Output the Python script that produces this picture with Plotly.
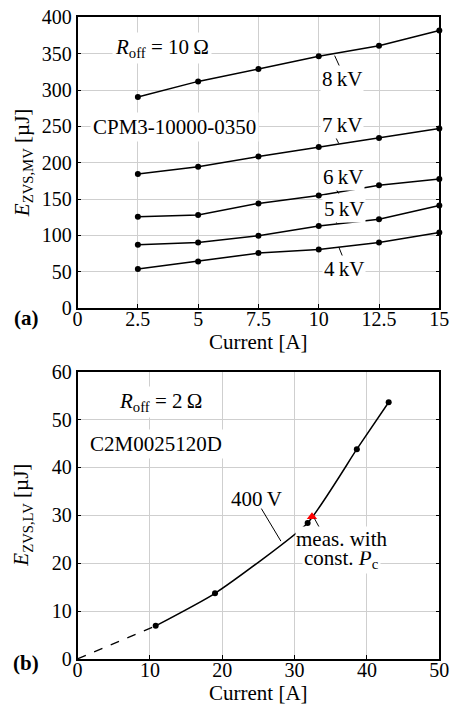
import plotly.graph_objects as go

# ---- data (a) ----
current_a = [2.5, 5, 7.5, 10, 12.5, 15]
e_4kv = [53.5, 64, 75.5, 80.5, 90, 104]
e_5kv = [87, 90, 99.5, 113, 122, 141]
e_6kv = [125.5, 128, 144, 155, 169, 177.5]
e_7kv = [184.5, 194.5, 208.5, 221.5, 234, 247]
e_8kv = [290.5, 312, 329, 346.5, 361, 382]
voltage_labels = ["4\u2009kV", "5\u2009kV", "6\u2009kV", "7\u2009kV", "8\u2009kV"]

# ---- data (b) ----
current_b = [10.8, 19.0, 31.8, 38.6, 43.0]
e_400v = [6.9, 13.7, 28.4, 43.8, 53.6]
extrap_x = [0, 10.8]
extrap_y = [0, 6.9]
const_pc_x = [32.4]
const_pc_y = [29.7]

ticks_a_x = [0, 2.5, 5, 7.5, 10, 12.5, 15]
ticks_a_y = [0, 50, 100, 150, 200, 250, 300, 350, 400]
ticks_b_x = [0, 10, 20, 30, 40, 50]
ticks_b_y = [0, 10, 20, 30, 40, 50, 60]

FONT = "Liberation Serif, Times New Roman, serif"
FS = 21
TFS = 20
W, H = 459, 720

def px(x):  # page x pixel -> paper fraction
    return x / W

def py(y):  # page y pixel -> paper fraction
    return 1 - y / H

fig = go.Figure()
line = dict(color="black", width=1.5)
mk = dict(color="black", size=6)
for ys in [e_4kv, e_5kv, e_6kv, e_7kv, e_8kv]:
    fig.add_trace(go.Scatter(x=current_a, y=ys, mode="lines+markers", line=line,
                             marker=mk, xaxis="x", yaxis="y", showlegend=False,
                             cliponaxis=False))

fig.add_trace(go.Scatter(x=extrap_x, y=extrap_y, mode="lines",
                         line=dict(color="black", width=1.3, dash="dash"),
                         xaxis="x2", yaxis="y2", showlegend=False))
fig.add_trace(go.Scatter(x=current_b, y=e_400v, mode="lines+markers",
                         line=dict(color="black", width=1.5, shape="spline", smoothing=0.5),
                         marker=mk, xaxis="x2", yaxis="y2", showlegend=False))
fig.add_trace(go.Scatter(x=const_pc_x, y=const_pc_y, mode="markers",
                         marker=dict(color="red", size=9, symbol="triangle-up"),
                         xaxis="x2", yaxis="y2", showlegend=False))

xd = [px(75), px(449)]
yd_a = [py(306.3), py(6.7)]
yd_b = [py(668.3), py(372)]

axcommon = dict(showline=True, linecolor="black", linewidth=1.5, ticks="inside",
                ticklen=4, tickcolor="black", showgrid=True, gridcolor="#cfcfcf",
                gridwidth=1, zeroline=False, ticklabeloverflow="allow",
                tickfont=dict(family=FONT, size=TFS, color="black"))

fig.update_layout(
    width=W, height=H, margin=dict(l=0, r=0, t=0, b=0),
    plot_bgcolor="white", paper_bgcolor="white",
    font=dict(family=FONT, size=FS, color="black"),
    xaxis=dict(domain=xd, anchor="y", range=[0, 15], tickvals=ticks_a_x,
               ticktext=[str(v) for v in ticks_a_x], mirror=True,
               ticklabelstandoff=-8, **axcommon),
    yaxis=dict(domain=yd_a, anchor="x", range=[0, 400], tickvals=ticks_a_y,
               mirror="ticks", **axcommon),
    xaxis2=dict(domain=xd, anchor="y2", range=[0, 50], tickvals=ticks_b_x,
                mirror=True, ticklabelstandoff=-8, **axcommon),
    yaxis2=dict(domain=yd_b, anchor="x2", range=[0, 60], tickvals=ticks_b_y,
                mirror="ticks", **axcommon),
)

ann = []
def A(text, x, y, xref="x", yref="y", bg="white", **kw):
    d = dict(text=text, x=x, y=y, xref=xref, yref=yref, showarrow=False,
             xanchor="center", yanchor="middle",
             font=dict(family=FONT, size=FS, color="black"), bgcolor=bg, borderpad=2)
    d.update(kw)
    ann.append(d)

# panel (a) labels
A("<i>R</i><sub>off</sub> = 10\u2009\u03a9", 3.51, 358)
A("CPM3-10000-0350", 4.02, 249)
label_pos_a = [(11.03, 54), (11.03, 136.5), (10.99, 180.5), (10.95, 252), (10.95, 315.5)]
for t, (lx, ly) in zip(voltage_labels, label_pos_a):
    A(t, lx, ly, borderpad=1)
leaders_a = [((10.83, 84), (11.0, 70)), ((10.59, 126.5), (10.76, 116)),
             ((10.63, 168.5), (10.83, 157.5)), ((10.6, 242), (10.83, 226.5)),
             ((10.66, 347.5), (10.9, 330))]
shapes = []
for (x0, y0), (x1, y1) in leaders_a:
    shapes.append(dict(type="line", xref="x", yref="y", x0=x0, y0=y0, x1=x1, y1=y1,
                       line=dict(color="black", width=1)))

# panel (b) labels
A("<i>R</i><sub>off</sub> = 2\u2009\u03a9", 11.5, 53.6, xref="x2", yref="y2")
A("C2M0025120D", 10.9, 44.8, xref="x2", yref="y2")
A("400\u2009V", 24.7, 33.3, xref="x2", yref="y2", bg="rgba(0,0,0,0)")
A("const. <i>P</i><sub>c</sub>", 36.5, 20.8, xref="x2", yref="y2", borderpad=1)
A("meas. with", 36.5, 25.1, xref="x2", yref="y2", borderpad=0)
for (x0, y0), (x1, y1) in [((25.4, 31.4), (28.1, 24.6)), ((32.75, 29.3), (33.8, 26.4))]:
    shapes.append(dict(type="line", xref="x2", yref="y2", x0=x0, y0=y0, x1=x1, y1=y1,
                       line=dict(color="black", width=1)))

# axis titles
A("<i>E</i><sub>ZVS,MV</sub> [\u00b5J]", px(18), (yd_a[0] + yd_a[1]) / 2, xref="paper", yref="paper",
  bg="rgba(0,0,0,0)", textangle=-90)
A("<i>E</i><sub>ZVS,LV</sub> [\u00b5J]", px(18), (yd_b[0] + yd_b[1]) / 2, xref="paper", yref="paper",
  bg="rgba(0,0,0,0)", textangle=-90)
A("Current [A]", px(262), py(341.5), xref="paper", yref="paper", bg="rgba(0,0,0,0)")
A("Current [A]", px(262), py(703), xref="paper", yref="paper", bg="rgba(0,0,0,0)")
A("<b>(a)</b>", px(22), py(317), xref="paper", yref="paper", bg="rgba(0,0,0,0)")
A("<b>(b)</b>", px(22), py(673), xref="paper", yref="paper", bg="rgba(0,0,0,0)")

fig.update_layout(annotations=ann, shapes=shapes)
fig.write_html("out.html", config={"displayModeBar": False},
               post_script="document.body.style.margin='0px';document.body.style.overflow='hidden';")
